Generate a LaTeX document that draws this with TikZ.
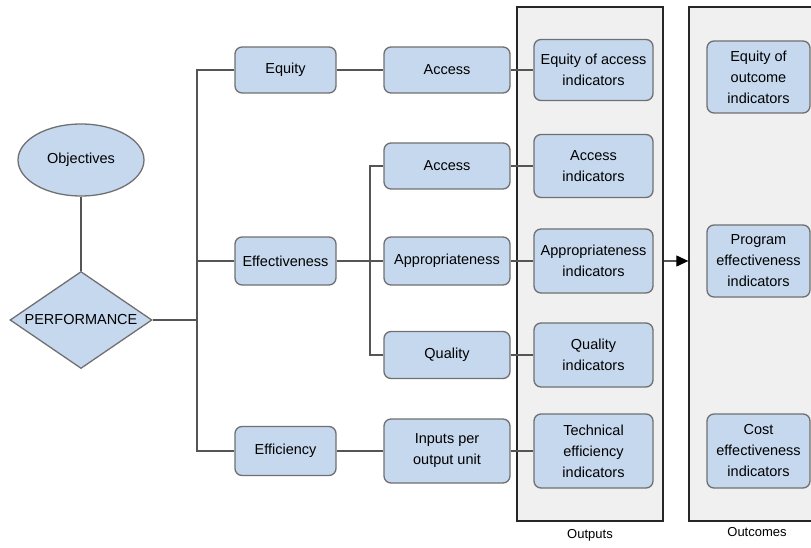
\documentclass[tikz,border=0pt]{standalone}
\usepackage{fontspec}
\setmainfont{Liberation Sans}
\usetikzlibrary{shapes.geometric,arrows.meta}
\definecolor{boxfill}{HTML}{C6D8EE}
\definecolor{boxline}{HTML}{707070}
\definecolor{panelfill}{HTML}{F0F0F0}
\definecolor{wirecol}{HTML}{555555}

\begin{document}
\begin{tikzpicture}[x=1pt,y=-1pt,
  txt/.style={font=\fontsize{14.5}{21}\selectfont},
  box/.style={txt, draw=boxline, line width=1.3pt, fill=boxfill,
    rounded corners=7pt, align=center, inner sep=0pt},
  colA/.style={box, minimum width=101pt},
  colB/.style={box, minimum width=126pt},
  colC/.style={box, minimum width=119pt},
  colD/.style={box, minimum width=103pt},
  wire/.style={draw=wirecol, line width=1.1pt},
  panel/.style={draw=black!85, line width=1.3pt, fill=panelfill,
    minimum width=146pt, minimum height=514pt, inner sep=0pt},
  caption/.style={font=\fontsize{13}{16}\selectfont},
]
\useasboundingbox (0,0) rectangle (811,548);

% background panels
\node[panel] (outputs)  at (590,264) {};
\node[panel] (outcomes) at (762,264) {};
\node[caption] (outlbl) at (590,535) {Outputs};
\node[caption] (outclbl) at (757,532) {Outcomes};

% left: objectives and performance
\node[txt, ellipse, draw=boxline, line width=1.3pt, fill=boxfill,
  minimum width=126pt, minimum height=72pt, inner sep=0pt] (obj) at (81,160) {Objectives};
\node[txt, diamond, draw=boxline, line width=1.3pt, fill=boxfill,
  shape aspect=1.46, minimum width=142pt, minimum height=97pt, inner sep=0pt] (perf) at (81,320) {PERFORMANCE};

% first level
\node[colA, minimum height=46pt] (equity) at (285.5,70)  {Equity};
\node[colA, minimum height=48pt] (effe)   at (285.5,261) {Effectiveness};
\node[colA, minimum height=49pt] (effy)   at (285.5,451) {Efficiency};

% second level
\node[colB, minimum height=46pt] (acc1) at (447,70)  {Access};
\node[colB, minimum height=46pt] (acc2) at (447,166) {Access};
\node[colB, minimum height=48pt] (appr) at (447,261) {Appropriateness};
\node[colB, minimum height=47pt] (qual) at (447,355) {Quality};
\node[colB, minimum height=64pt] (inp)  at (447,451) {Inputs per\\output unit};

% output indicators
\node[colC, minimum height=61pt] (o1) at (593.5,70)  {Equity of access\\indicators};
\node[colC, minimum height=63pt] (o2) at (593.5,166) {Access\\indicators};
\node[colC, minimum height=64pt] (o3) at (593.5,261) {Appropriateness\\indicators};
\node[colC, minimum height=64pt] (o4) at (593.5,355) {Quality\\indicators};
\node[colC, minimum height=74pt] (o5) at (593.5,451) {Technical\\efficiency\\indicators};

% outcome indicators
\node[colD, minimum height=72pt] (c1) at (758.5,77)  {Equity of\\outcome\\indicators};
\node[colD, minimum height=72pt] (c2) at (758.5,261) {Program\\effectiveness\\indicators};
\node[colD, minimum height=74pt] (c3) at (758.5,451) {Cost\\effectiveness\\indicators};

% connectors
\coordinate (trunk)  at (197,320);
\coordinate (trunk2) at (370,261);
\draw[wire] (obj.south) -- (perf.north);
\draw[wire] (perf.east) -- (trunk);
\draw[wire] (equity.west) -| (trunk) |- (effy.west);
\draw[wire] (effe.west) -- (effe.west -| trunk);
\draw[wire] (equity.east) -- (acc1.west);
\draw[wire] (effe.east) -- (appr.west);
\draw[wire] (acc2.west) -| (trunk2) |- (qual.west);
\draw[wire] (effy.east) -- (inp.west);
\draw[wire] (acc1.east) -- (o1.west);
\draw[wire] (acc2.east) -- (o2.west);
\draw[wire] (appr.east) -- (o3.west);
\draw[wire] (qual.east) -- (o4.west);
\draw[wire] (inp.east)  -- (o5.west);
\draw[wire, -{Triangle[length=12pt,width=11pt,color=black]}] (outputs.east |- o3.east) -- (outcomes.west |- o3.east);
\end{tikzpicture}
\end{document}
